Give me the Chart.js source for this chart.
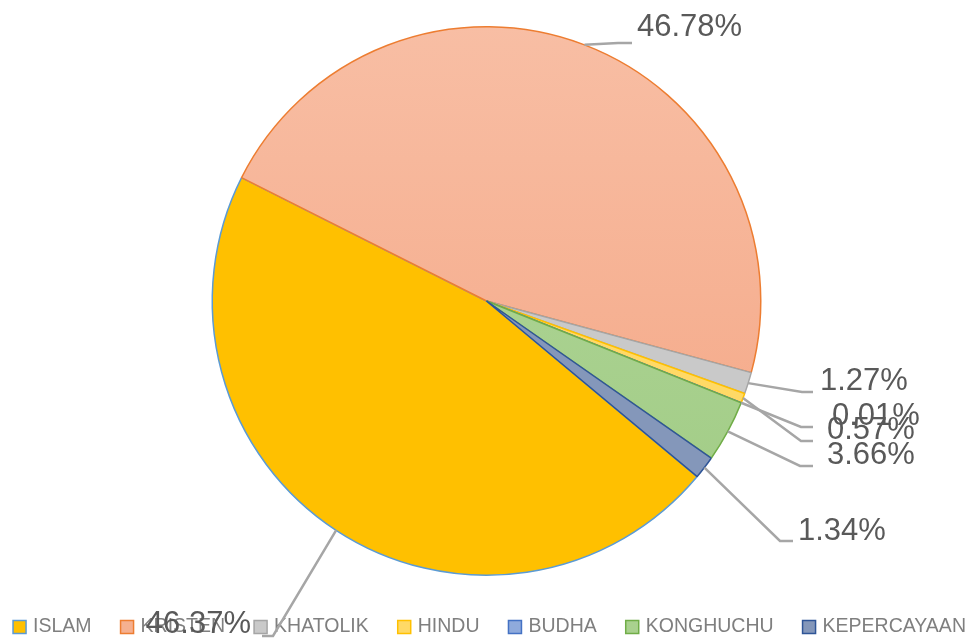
<!DOCTYPE html>
<html>
<head>
<meta charset="utf-8">
<script src="https://cdn.jsdelivr.net/npm/chart.js@4.4.1/dist/chart.umd.min.js"></script>
<style>
  html, body { margin: 0; padding: 0; background: #ffffff; }
  canvas { display: block; }
</style>
</head>
<body>
<canvas id="pieChart" width="973" height="640"></canvas>
<script>
// data
const categories = ['ISLAM', 'KRISTEN', 'KHATOLIK', 'HINDU', 'BUDHA', 'KONGHUCHU', 'KEPERCAYAAN'];
const percentages = [46.37, 46.78, 1.27, 0.57, 0.01, 3.66, 1.34];

// styles
const fillColors = ['#FFC000', '#F5B090', '#C9C9C9', '#FFD966', '#8FAADC', '#A9D18E', '#8497BA'];
const edgeColors = ['#5B9BD5', '#ED7D31', '#A5A5A5', '#FFC000', '#4472C4', '#70AD47', '#2F5597'];
const gradientStops = {
  1: ['#F8BEA4', '#F4A583'],
  5: ['#B3D89C', '#A0CB84']
};

// where each percentage label sits and how its leader line bends
const labelSpots = [
  { tx: 251, ty: 624, align: 'right', elbow: [273, 636], end: [262, 636] },
  { tx: 637, ty: 27, align: 'left', elbow: [618, 43], end: [632, 43] },
  { tx: 820, ty: 381, align: 'left', elbow: [802, 392], end: [813, 392] },
  { tx: 827, ty: 430, align: 'left', elbow: [801, 441], end: [813, 441] },
  { tx: 832, ty: 416, align: 'left', elbow: [801, 427], end: [813, 427] },
  { tx: 827, ty: 455, align: 'left', elbow: [800, 466], end: [813, 466] },
  { tx: 798, ty: 531, align: 'left', elbow: [780, 541], end: [793, 541] }
];

function sliceFill(context) {
  const i = context.dataIndex;
  const area = context.chart.chartArea;
  if (!area || !gradientStops[i]) return fillColors[i];
  const g = context.chart.ctx.createLinearGradient(0, area.top, 0, area.bottom);
  g.addColorStop(0, gradientStops[i][0]);
  g.addColorStop(1, gradientStops[i][1]);
  return g;
}

const legendPlugin = {
  id: 'excelLegend',
  afterDraw(chart) {
    const ctx = chart.ctx;
    const box = 13, gap = 7, itemGap = 29;
    ctx.save();
    ctx.font = '19.5px "Liberation Sans", Arial, sans-serif';
    const widths = categories.map(c => box + gap + ctx.measureText(c).width);
    const total = widths.reduce((a, b) => a + b, 0) + itemGap * (categories.length - 1);
    let x = (chart.width - total) / 2 + 3;
    const cy = 627;
    categories.forEach((c, i) => {
      ctx.fillStyle = fillColors[i];
      ctx.fillRect(x, cy - box / 2, box, box);
      ctx.strokeStyle = edgeColors[i];
      ctx.lineWidth = 1.5;
      ctx.strokeRect(x, cy - box / 2, box, box);
      ctx.fillStyle = '#7F7F7F';
      ctx.textBaseline = 'middle';
      ctx.textAlign = 'left';
      ctx.fillText(c, x + box + gap, cy);
      x += widths[i] + itemGap;
    });
    ctx.restore();
  }
};

const labelPlugin = {
  id: 'leaderLabels',
  afterDraw(chart) {
    const ctx = chart.ctx;
    const arcs = chart.getDatasetMeta(0).data;
    ctx.save();
    arcs.forEach((arc, i) => {
      const spot = labelSpots[i];
      const p = arc.getProps(['x', 'y', 'startAngle', 'endAngle', 'outerRadius'], true);
      const mid = (p.startAngle + p.endAngle) / 2;
      const sx = p.x + Math.cos(mid) * p.outerRadius;
      const sy = p.y + Math.sin(mid) * p.outerRadius;
      ctx.strokeStyle = '#A6A6A6';
      ctx.lineWidth = 2.5;
      ctx.beginPath();
      ctx.moveTo(sx, sy);
      ctx.lineTo(spot.elbow[0], spot.elbow[1]);
      ctx.lineTo(spot.end[0], spot.end[1]);
      ctx.stroke();
    });
    ctx.font = '31px "Liberation Sans", Arial, sans-serif';
    ctx.fillStyle = '#595959';
    ctx.textBaseline = 'middle';
    percentages.forEach((v, i) => {
      const spot = labelSpots[i];
      ctx.textAlign = spot.align;
      ctx.fillText(v.toFixed(2) + '%', spot.tx, spot.ty);
    });
    ctx.restore();
  }
};

const ctx = document.getElementById('pieChart').getContext('2d');
new Chart(ctx, {
  type: 'pie',
  data: {
    labels: categories,
    datasets: [{
      data: percentages,
      backgroundColor: sliceFill,
      borderColor: edgeColors,
      borderWidth: 1.5
    }]
  },
  options: {
    responsive: false,
    animation: false,
    rotation: 129.8,
    layout: { padding: { top: 26, bottom: 64, left: 0, right: 0 } },
    plugins: {
      legend: { display: false },
      tooltip: { enabled: false }
    }
  },
  plugins: [legendPlugin, labelPlugin]
});
</script>
</body>
</html>
